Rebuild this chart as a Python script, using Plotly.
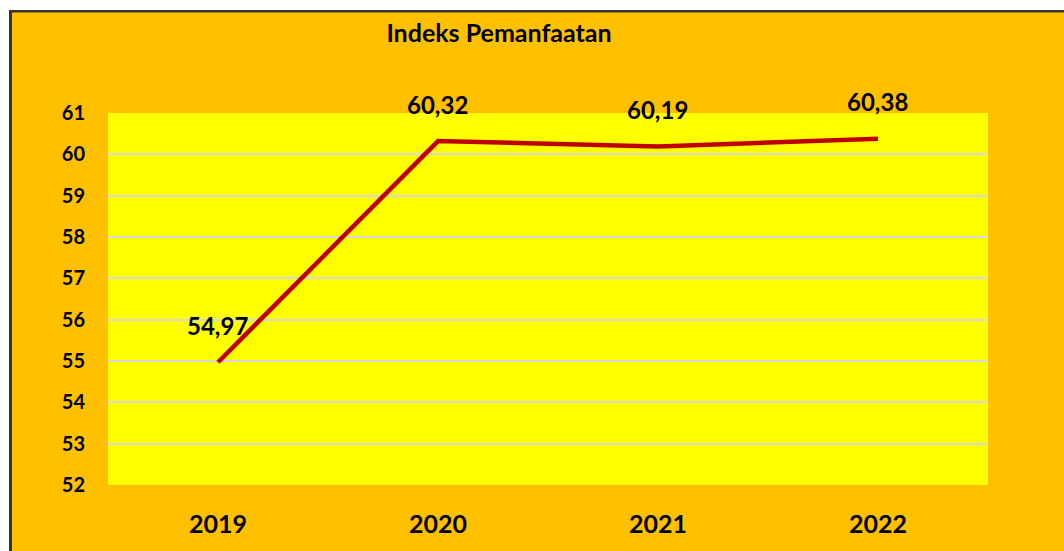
import plotly.graph_objects as go

years = ["2019", "2020", "2021", "2022"]
values = [54.97, 60.32, 60.19, 60.38]
labels = ["54,97", "60,32", "60,19", "60,38"]
y_ticks = [52, 53, 54, 55, 56, 57, 58, 59, 60, 61]

ORANGE = "#FFC000"
YELLOW = "#FFFF00"
DARK = "#3a3431"
RED = "#C00000"
FONT = "Lato"

W, H = 1064, 551
L, R, T, B = 108, 76, 113, 66
PW, PH = W - L - R, H - T - B

def fx(px):
    return (px - L) / PW

def fy(py):
    return 1 - (py - T) / PH

fig = go.Figure()
fig.add_trace(go.Scatter(
    x=years, y=values, mode="lines",
    line=dict(color=RED, width=4.5, shape="linear"),
    hoverinfo="skip", showlegend=False,
))

for i, (yv, t) in enumerate(zip(values, labels)):
    fig.add_annotation(
        x=i, y=yv, xref="x", yref="y", text=t, showarrow=False,
        yshift=37, xshift=-1,
        font=dict(family=FONT, size=24, color="#000000", weight="bold"),
    )

shapes = [
    dict(type="rect", xref="paper", yref="paper", x0=fx(-5), x1=fx(W + 5), y0=fy(10), y1=fy(-5),
         fillcolor="white", line=dict(width=0), layer="above"),
    dict(type="rect", xref="paper", yref="paper", x0=fx(-5), x1=fx(9), y0=fy(H + 5), y1=fy(-5),
         fillcolor="white", line=dict(width=0), layer="above"),
    dict(type="rect", xref="paper", yref="paper", x0=fx(9), x1=fx(W + 5), y0=fy(12.5), y1=fy(10),
         fillcolor=DARK, line=dict(width=0), layer="above"),
    dict(type="rect", xref="paper", yref="paper", x0=fx(9), x1=fx(12), y0=fy(H + 5), y1=fy(10),
         fillcolor=DARK, line=dict(width=0), layer="above"),
]

fig.update_layout(
    width=W, height=H,
    margin=dict(l=L, r=R, t=T, b=B, pad=0),
    paper_bgcolor=ORANGE,
    plot_bgcolor=YELLOW,
    shapes=shapes,
    hovermode=False,
    title=dict(
        text="Indeks Pemanfaatan",
        x=499 / W, xanchor="center", xref="container",
        y=1 - 33 / H, yanchor="middle", yref="container",
        font=dict(family=FONT, size=25, color="#000000", weight="bold"),
    ),
    xaxis=dict(
        type="category", range=[-0.5, 3.5],
        showgrid=False, zeroline=False, showline=False, ticks="",
        tickfont=dict(family=FONT, size=25, color="#000000", weight="bold"),
        ticklabelstandoff=22,
    ),
    yaxis=dict(
        range=[52, 61], tickvals=y_ticks, ticktext=[str(v) for v in y_ticks],
        showgrid=True, gridcolor="#D9D9D9", gridwidth=2,
        zeroline=False, showline=False, ticks="",
        tickfont=dict(family=FONT, size=20, color="#000000", weight="bold"),
        ticklabelstandoff=22,
    ),
)

fig.write_html(
    "out.html",
    config={"displayModeBar": False},
    post_script="document.body.style.margin='0';document.body.style.overflow='hidden';",
)
